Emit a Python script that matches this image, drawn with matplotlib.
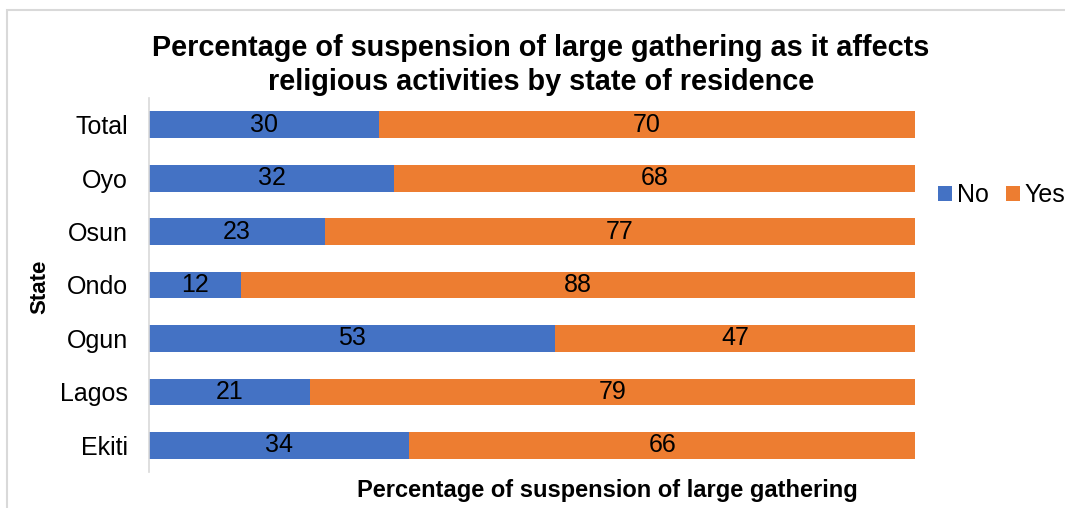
import matplotlib
matplotlib.use("Agg")
import matplotlib.pyplot as plt
from matplotlib.patches import Rectangle

states = ["Total", "Oyo", "Osun", "Ondo", "Ogun", "Lagos", "Ekiti"]
no_vals = [30, 32, 23, 12, 53, 21, 34]
yes_vals = [70, 68, 77, 88, 47, 79, 66]

plt.rcParams['font.family'] = ['Liberation Sans', 'DejaVu Sans']

W, H = 1065, 508
fig = plt.figure(figsize=(W/100, H/100), dpi=100)
fig.patches.append(Rectangle((7/W, -0.1), 1.2, 1.1 - 10/H, transform=fig.transFigure,
                             fill=False, edgecolor='#d9d9d9', linewidth=1.5))

ax = fig.add_axes([149/W, 1 - 472/H, (915-149)/W, (472-98)/H])
blue, orange = '#4472C4', '#ED7D31'
ypos = list(range(len(states)))[::-1]
b1 = ax.barh(ypos, no_vals, height=0.5, color=blue, label='No')
b2 = ax.barh(ypos, yes_vals, left=no_vals, height=0.5, color=orange, label='Yes')
for bars, vals in ((b1, no_vals), (b2, yes_vals)):
    ax.bar_label(bars, labels=[str(v) for v in vals], label_type='center', fontsize=18, color='black')

ax.set_xlim(0, 100)
ax.set_ylim(-0.5, len(states) - 0.5)
ax.set_yticks(ypos)
ax.set_yticklabels(states, fontsize=18)
ax.set_xticks([])
ax.tick_params(axis='y', length=0, pad=15)
for s in ['top', 'right', 'bottom']:
    ax.spines[s].set_visible(False)
ax.spines['left'].set_color('#d9d9d9')
ax.spines['left'].set_linewidth(1.2)

fig.text(541/W, 1 - 65/H, "Percentage of suspension of large gathering as it affects\nreligious activities by state of residence",
         ha='center', va='center', fontsize=20.8, fontweight='bold', linespacing=1.25)
fig.text(607/W, 1 - 490/H, "Percentage of suspension of large gathering", ha='center', va='center',
         fontsize=17, fontweight='bold')
fig.text(40/W, 1 - 287/H, "State", ha='center', va='center', rotation=90, fontsize=16, fontweight='bold')

ax.legend(loc='center left', bbox_to_anchor=(938/W, 1 - 195/H), bbox_transform=fig.transFigure,
          ncol=2, frameon=False, fontsize=18, handlelength=0.55, handleheight=0.55,
          handletextpad=0.2, columnspacing=0.7, borderaxespad=0, borderpad=0)

fig.savefig("out.png", dpi=100)
